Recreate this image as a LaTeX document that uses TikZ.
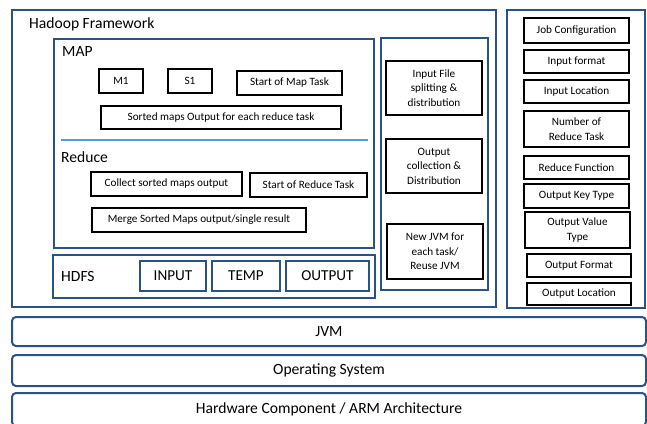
\documentclass[tikz,border=0pt]{standalone}
\usepackage{fontspec}
\setmainfont{Carlito}
\newlength{\du}
\setlength{\du}{1pt}
\definecolor{framecolor}{RGB}{41,82,133}
\definecolor{dividercolor}{RGB}{91,155,213}
\tikzset{
  frame/.style={draw=framecolor, line width=2\du, inner sep=0pt},
  taskbox/.style={draw=black, line width=2\du, fill=white, align=center, inner sep=0pt, font=\fontsize{11.2}{14.5}\selectfont},
  storebox/.style={draw=framecolor, line width=2\du, fill=white, inner sep=0pt, font=\fontsize{15.2}{17}\selectfont},
  layer/.style={draw=framecolor, line width=2\du, rounded corners=4\du, fill=white, inner sep=0pt, font=\fontsize{15.6}{18}\selectfont},
  title/.style={anchor=west, inner sep=0pt, font=\fontsize{15.6}{18}\selectfont},
}

\begin{document}
\begin{tikzpicture}
\pgftransformxscale{1.000000}
\pgftransformyscale{-1.000000}
\useasboundingbox (0\du,0\du) rectangle (647\du,423\du);
% outer frames
\node[frame, minimum width=484\du, minimum height=297\du] (hadoop) at (254\du,158.5\du){};
\node[title] (hadooplabel) at (29\du,24\du){Hadoop Framework};
\node[frame, minimum width=320\du, minimum height=209\du] (mapred) at (214\du,143.5\du){};
\node[frame, minimum width=107\du, minimum height=252\du] (control) at (434.5\du,164\du){};
\node[frame, minimum width=138\du, minimum height=298\du] (jobconf) at (576\du,159\du){};
% map part
\node[title] (maplabel) at (62\du,51\du){MAP};
\node[taskbox, minimum width=44\du, minimum height=24\du] (m1) at (121\du,81\du){M1};
\node[taskbox, minimum width=44\du, minimum height=24\du] (s1) at (190\du,81\du){S1};
\node[taskbox, minimum width=105\du, minimum height=24\du] (startmap) at (289.5\du,83\du){Start of Map Task};
\node[taskbox, minimum width=240\du, minimum height=23\du] (sorted) at (221\du,117.5\du){Sorted maps Output for each reduce task};
\coordinate (divleft) at (61\du,140\du);
\coordinate (divright) at (368\du,140\du);
\draw[draw=dividercolor, line width=1.5\du] (divleft)--(divright);
% reduce part
\node[title] (reducelabel) at (61\du,157\du){Reduce};
\node[taskbox, minimum width=151\du, minimum height=24\du] (collect) at (166.5\du,184\du){Collect sorted maps output};
\node[taskbox, minimum width=117\du, minimum height=24\du] (startreduce) at (308.5\du,185\du){Start of Reduce Task};
\node[taskbox, minimum width=214\du, minimum height=24\du] (merge) at (199\du,220\du){Merge Sorted Maps output/single result};
% hdfs
\node[frame, minimum width=322\du, minimum height=43\du] (hdfs) at (214\du,276.5\du){};
\node[title] (hdfslabel) at (61\du,276\du){HDFS};
\node[storebox, minimum width=66\du, minimum height=30\du] (input) at (173\du,276\du){INPUT};
\node[storebox, minimum width=68\du, minimum height=30\du] (temp) at (246\du,276\du){TEMP};
\node[storebox, minimum width=83\du, minimum height=30\du] (output) at (327.5\du,276\du){OUTPUT};
% task control
\node[taskbox, minimum width=96\du, minimum height=54\du] (split) at (434\du,88\du){Input File\\splitting \&\\distribution};
\node[taskbox, minimum width=96\du, minimum height=54\du] (gather) at (434\du,166\du){Output\\collection \&\\Distribution};
\node[taskbox, minimum width=96\du, minimum height=55\du] (newjvm) at (435\du,251.5\du){New JVM for\\each task/\\Reuse JVM};
% job configuration
\node[taskbox, minimum width=105\du, minimum height=25\du] (config) at (576.5\du,30.5\du){Job Configuration};
\node[taskbox, minimum width=105\du, minimum height=23\du] (informat) at (576.5\du,61.5\du){Input format};
\node[taskbox, minimum width=105\du, minimum height=23\du] (inlocation) at (576.5\du,91.5\du){Input Location};
\node[taskbox, minimum width=105\du, minimum height=36\du] (numreduce) at (576.5\du,129\du){Number of\\Reduce Task};
\node[taskbox, minimum width=105\du, minimum height=23\du] (reducefn) at (576.5\du,167.5\du){Reduce Function};
\node[taskbox, minimum width=105\du, minimum height=24\du] (outkey) at (576.5\du,196\du){Output Key Type};
\node[taskbox, minimum width=105\du, minimum height=36\du] (outvalue) at (577.5\du,230\du){Output Value\\Type};
\node[taskbox, minimum width=104\du, minimum height=23\du] (outformat) at (579\du,265.5\du){Output Format};
\node[taskbox, minimum width=104\du, minimum height=22\du] (outlocation) at (579\du,294\du){Output Location};
% layers
\node[layer, minimum width=634\du, minimum height=29\du] (jvm) at (329\du,331.5\du){JVM};
\node[layer, minimum width=634\du, minimum height=31\du] (os) at (329\du,370.5\du){Operating System};
\node[layer, minimum width=634\du, minimum height=33\du] (hardware) at (329\du,409.5\du){Hardware Component / ARM Architecture};
\end{tikzpicture}
\end{document}
